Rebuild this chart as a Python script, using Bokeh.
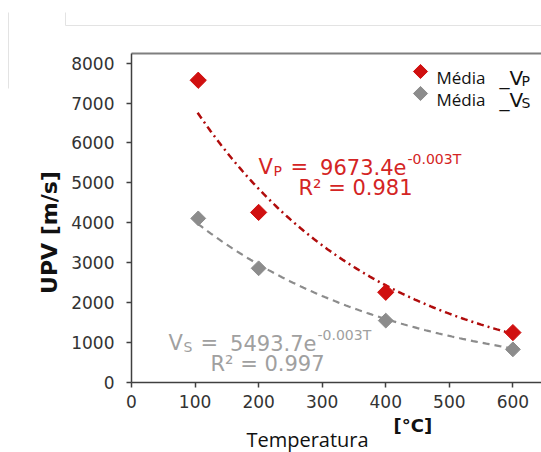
import numpy as np
from bokeh.plotting import figure
from bokeh.models import Label, Range1d, Whisker, ColumnDataSource, FixedTicker
from bokeh.embed import file_html
from bokeh.resources import INLINE

# ---- data ----
temperature = [105, 200, 400, 600]          # °C
vp_mean = [7570, 4260, 2260, 1250]          # m/s
vs_mean = [4110, 2860, 1550, 830]           # m/s
vp_upper = [7740, 4260, 2260, 1250]         # small error bar (visible only on first point)
vp_lower = [7400, 4260, 2260, 1250]

# exponential trend lines  V = A * exp(-B*T)
A_P, B_P = 9673.4, 0.00345
A_S, B_S = 5493.7, 0.0031
T_FIT_START, T_FIT_END = 104, 600

x_ticks = [0, 100, 200, 300, 400, 500, 600]
y_ticks = [0, 1000, 2000, 3000, 4000, 5000, 6000, 7000, 8000]

eq_p = ("V", "P", "=", "9673.4e", "-0.003T", "R² = 0.981")
eq_s = ("V", "S", "=", "5493.7e", "-0.003T", "R² = 0.997")
legend_labels = [("Média", "_V", "P"), ("Média", "_V", "S")]

RED = "#d01010"
RED_LINE = "#b00c0c"
RED_TEXT = "#d42424"
GRAY = "#8c8c8c"
GRAY_TEXT = "#a0a0a0"

# ---- geometry: the frame covers the whole canvas; axes sit at fixed data locations ----
W, H = 541, 452
OX, OY = 131, 382           # pixel position of data origin (0, 0)
XMAX, YTOP = 645, 8240      # data value at right canvas edge / top plot line
SX = (W - OX) / XMAX        # px per °C
SY = (OY - 53) / YTOP       # px per m/s

def dx(px):
    return (px - OX) / SX

def dy(py):
    return (OY - py) / SY

p = figure(width=W, height=H, output_backend="svg", toolbar_location=None,
           x_range=Range1d(dx(0), dx(W)), y_range=Range1d(dy(H), dy(0)),
           min_border=0, min_border_left=0, min_border_right=0,
           min_border_top=0, min_border_bottom=0)
p.outline_line_color = None
p.background_fill_color = "white"
p.border_fill_color = "white"
p.xgrid.visible = False
p.ygrid.visible = False

for ax in (p.xaxis[0], p.yaxis[0]):
    ax.fixed_location = 0
    ax.axis_line_color = "#404040"
    ax.axis_line_width = 1.5
    ax.major_tick_line_color = "#404040"
    ax.major_tick_line_width = 1.5
    ax.major_tick_in = 0
    ax.major_tick_out = 5
    ax.minor_tick_line_color = None
    ax.major_label_text_font = "DejaVu Sans"
    ax.major_label_text_font_size = "17px"
    ax.major_label_text_color = "#333333"

p.xaxis.ticker = FixedTicker(ticks=x_ticks)
p.yaxis.ticker = FixedTicker(ticks=y_ticks)
p.xaxis.bounds = (0, XMAX)
p.yaxis.bounds = (0, YTOP)
p.xaxis.major_label_standoff = 7
p.yaxis.major_label_standoff = 12

# top frame line of the plot area
p.line([0, XMAX], [YTOP, YTOP], line_color="#7f7f7f", line_width=2)

# faint page edges seen in the reference screenshot
p.line([dx(65), dx(W)], [dy(25), dy(25)], line_color="#e3e3e3", line_width=1)
p.line([dx(65), dx(65)], [dy(12), dy(25)], line_color="#e3e3e3", line_width=1)
p.line([dx(8), dx(8)], [dy(12), dy(88)], line_color="#e3e3e3", line_width=1)

# trend lines
t_fit = np.linspace(T_FIT_START, T_FIT_END, 120)
p.line(t_fit, A_P * np.exp(-B_P * t_fit), line_color=RED_LINE, line_width=2.5,
       line_dash="7 4 2 4")
p.line(t_fit, A_S * np.exp(-B_S * t_fit), line_color=GRAY, line_width=2.2,
       line_dash="7 5")

# error bar
src_err = ColumnDataSource(dict(x=temperature, upper=vp_upper, lower=vp_lower))
p.add_layout(Whisker(source=src_err, base="x", upper="upper", lower="lower",
                     line_color=RED, line_width=2,
                     upper_head=None, lower_head=None))

# points
p.scatter(temperature, vs_mean, marker="square", angle=np.pi / 4, size=10.5,
          fill_color=GRAY, line_color=GRAY)
p.scatter(temperature, vp_mean, marker="square", angle=np.pi / 4, size=11.5,
          fill_color=RED, line_color=RED)

def lab(text, xpx, ypx, size, color, font="DejaVu Sans", style="normal",
        align="left", baseline="alphabetic", angle=0.0):
    p.add_layout(Label(x=dx(xpx), y=dy(ypx), text=text, text_font=font,
                       text_font_size=f"{size}px", text_color=color,
                       text_font_style=style, text_align=align,
                       text_baseline=baseline, angle=angle))

def equation(eq, x0, base, color, r2_center, r2_base):
    v, sub, eqs, num, sup, r2 = eq
    lab(v, x0, base, 21, color)
    lab(sub, x0 + 15, base + 4, 14, color)
    lab(eqs, x0 + 32, base, 21, color)
    lab(num, x0 + 148, base, 21, color, align="right")
    lab(sup, x0 + 149, base - 8, 14, color)
    lab(r2, r2_center, r2_base, 21, color, align="center")

equation(eq_p, 258, 166, RED_TEXT, 355, 187)
equation(eq_s, 168, 342, GRAY_TEXT, 267, 363)

# legend
leg_rows = [(RED, 71, 77), (GRAY, 93, 99)]
for (col, ym, yb), (m, v, s) in zip(leg_rows, legend_labels):
    p.scatter([dx(420)], [dy(ym)], marker="square", angle=np.pi / 4, size=10,
              fill_color=col, line_color=col)
    lab(m, 436, yb, 17, "#111111", font="Open Sans")
    lab(v, 499, yb, 20, "#111111")
    lab(s, 521, yb + 3, 14, "#111111")

# axis titles
lab("UPV [m/s]", 49, 232, 22, "#111111", style="bold", align="center",
    baseline="middle", angle=np.pi / 2)
lab("Temperatura", 307, 439, 20, "#111111", font="Open Sans", align="center")
lab("[°C]", 393, 425, 18, "#111111", style="bold")

open("out.html", "w").write(file_html(p, INLINE))
